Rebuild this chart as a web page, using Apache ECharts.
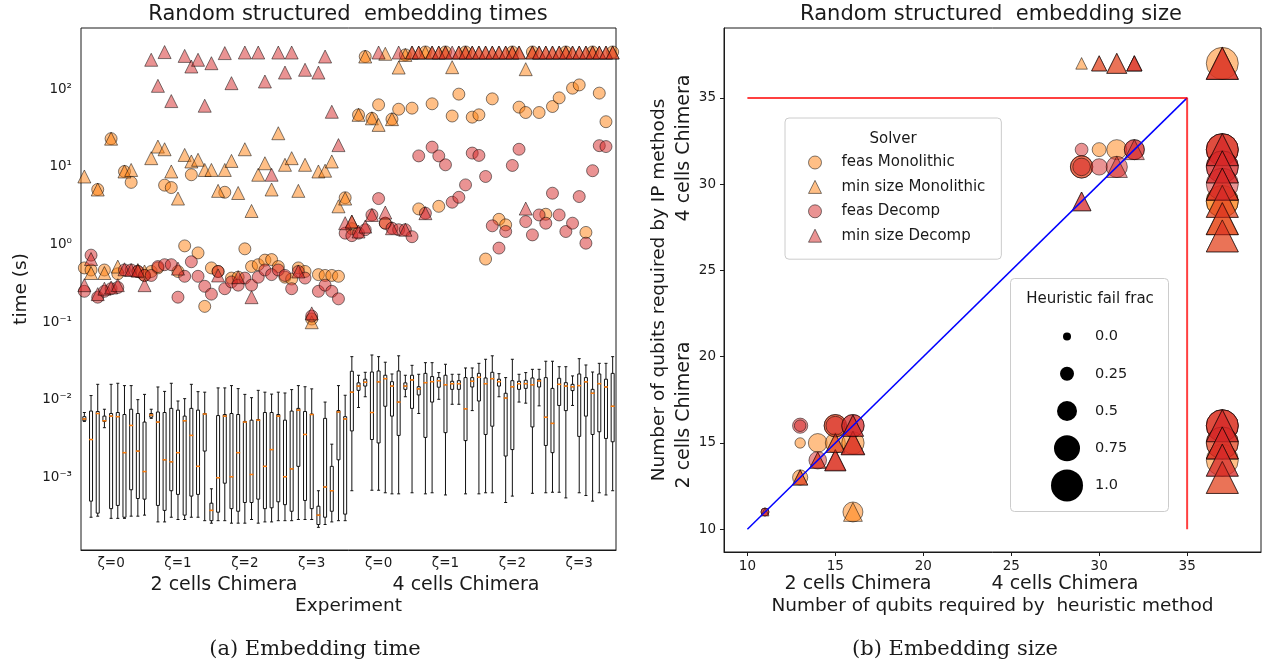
<!DOCTYPE html>
<html>
<head>
<meta charset="utf-8">
<script src="https://cdn.jsdelivr.net/npm/echarts@6/dist/echarts.min.js"></script>
<style>
  html, body { margin: 0; padding: 0; background: #fff; }
  #chart { width: 1263px; height: 666px; }
</style>
</head>
<body>
<div id="chart"></div>
<script>
// ---------- (a) embedding time: 80 experiments, 10 per zeta group ----------
const zetaLabels = ['ζ=0', 'ζ=1', 'ζ=2', 'ζ=3']
const timeTicks = [1e-3, 1e-2, 1e-1, 1, 10, 100]

// heuristic times per experiment: [min, q1, median, q3, max] (s)
const heurBox = [
  [0.0053, 0.0054, 0.0057, 0.0061, 0.0069], [0.00031, 0.0005, 0.0031, 0.0072, 0.0114],
  [0.00032, 0.00035, 0.0067, 0.0071, 0.0159], [0.0044, 0.0053, 0.0054, 0.0062, 0.0076],
  [0.0003, 0.0004, 0.0062, 0.0067, 0.0159], [0.0003, 0.00044, 0.0061, 0.0069, 0.0164],
  [0.0003, 0.00031, 0.0021, 0.0065, 0.0153], [0.00032, 0.0007, 0.0047, 0.0076, 0.0153],
  [0.00032, 0.00054, 0.0022, 0.0067, 0.0101], [0.00033, 0.00053, 0.0012, 0.0052, 0.0118],
  [0.0058, 0.006, 0.0064, 0.0067, 0.0076], [0.00027, 0.00044, 0.0052, 0.007, 0.0147],
  [0.00027, 0.00038, 0.0017, 0.0069, 0.0129], [0.00031, 0.00068, 0.0016, 0.0078, 0.0164],
  [0.00029, 0.00061, 0.0021, 0.0074, 0.0097], [0.00029, 0.00033, 0.0054, 0.0062, 0.0104],
  [0.00031, 0.00058, 0.0035, 0.0078, 0.0159], [0.00031, 0.00061, 0.0014, 0.0074, 0.0128],
  [0.00028, 0.0022, 0.0066, 0.0067, 0.0126], [0.00026, 0.00028, 0.00038, 0.00047, 0.00072],
  [0.00028, 0.00036, 0.001, 0.0063, 0.0143], [0.00028, 0.00085, 0.0062, 0.0065, 0.0143],
  [0.00026, 0.0004, 0.00103, 0.0067, 0.0153], [0.00026, 0.00037, 0.0021, 0.0065, 0.014],
  [0.00026, 0.00048, 0.0052, 0.0053, 0.0118], [0.00029, 0.00048, 0.0011, 0.0055, 0.0107],
  [0.00026, 0.00053, 0.0055, 0.0056, 0.0133], [0.00027, 0.0004, 0.0014, 0.0069, 0.0126],
  [0.00027, 0.00041, 0.0023, 0.0069, 0.0119], [0.00028, 0.00049, 0.0062, 0.0065, 0.0126],
  [0.00028, 0.00045, 0.00103, 0.0055, 0.0123], [0.00028, 0.00037, 0.0013, 0.0072, 0.0136],
  [0.00029, 0.0014, 0.0074, 0.0078, 0.0153], [0.00029, 0.00051, 0.0036, 0.0071, 0.0148],
  [0.00029, 0.0004, 0.0065, 0.0066, 0.0139], [0.00023, 0.00025, 0.00033, 0.00043, 0.00068],
  [0.00025, 0.00031, 0.00076, 0.0058, 0.0094], [0.00027, 0.00037, 0.00068, 0.0014, 0.0027],
  [0.00028, 0.0017, 0.007, 0.0073, 0.0153], [0.00028, 0.00034, 0.0057, 0.0061, 0.0115],
  [0.00068, 0.004, 0.0126, 0.0234, 0.0361], [0.008, 0.0133, 0.0151, 0.0166, 0.0208],
  [0.011, 0.0151, 0.0169, 0.0185, 0.0227], [0.00069, 0.0031, 0.0069, 0.0229, 0.0379],
  [0.00069, 0.0028, 0.0171, 0.0236, 0.0361], [0.00064, 0.0083, 0.0188, 0.0208, 0.0306],
  [0.00062, 0.0062, 0.0151, 0.0172, 0.0216], [0.00062, 0.0035, 0.0094, 0.0236, 0.037],
  [0.011, 0.0137, 0.0151, 0.0166, 0.0208], [0.00064, 0.0078, 0.0181, 0.0208, 0.0279],
  [0.0067, 0.0116, 0.0139, 0.0148, 0.0214], [0.00062, 0.0033, 0.0167, 0.022, 0.0302],
  [0.00064, 0.0094, 0.0172, 0.02, 0.0302], [0.0102, 0.0146, 0.0177, 0.0194, 0.0225],
  [0.0006, 0.0038, 0.0157, 0.0208, 0.0288], [0.0088, 0.0137, 0.0162, 0.0174, 0.0214],
  [0.0088, 0.0137, 0.0162, 0.0177, 0.0214], [0.00062, 0.003, 0.0077, 0.0194, 0.0258],
  [0.0073, 0.0147, 0.0174, 0.0194, 0.0258], [0.00062, 0.0097, 0.0196, 0.022, 0.0296],
  [0.00064, 0.0036, 0.0162, 0.0192, 0.0334], [0.00064, 0.0046, 0.0188, 0.0227, 0.037],
  [0.011, 0.0151, 0.0172, 0.0185, 0.0218], [0.00048, 0.0019, 0.0106, 0.0122, 0.0194],
  [0.00058, 0.0023, 0.0148, 0.0177, 0.0334], [0.0094, 0.0137, 0.0162, 0.0174, 0.0214],
  [0.0091, 0.0141, 0.0162, 0.0179, 0.0225], [0.00063, 0.0045, 0.0157, 0.0192, 0.0248],
  [0.0084, 0.0147, 0.0176, 0.0185, 0.0248], [0.00064, 0.0026, 0.006, 0.0194, 0.0315],
  [0.00065, 0.0021, 0.005, 0.0141, 0.0315], [0.00065, 0.0085, 0.0159, 0.019, 0.0268],
  [0.00055, 0.0073, 0.0151, 0.0167, 0.0268], [0.0085, 0.0132, 0.0148, 0.0159, 0.0204],
  [0.00064, 0.0034, 0.0153, 0.0216, 0.034], [0.00059, 0.0062, 0.0171, 0.0194, 0.0282],
  [0.0005, 0.0036, 0.0122, 0.0137, 0.0229], [0.00064, 0.0039, 0.0162, 0.0216, 0.0296],
  [0.0006, 0.0032, 0.0147, 0.0185, 0.0296], [0.00068, 0.0029, 0.0083, 0.022, 0.0361]
]

// IP solver times per experiment (s)
const feasMonoTime = [
  0.5, 0.47, 5.1, 0.47, 23, 0.42, 8.7, 6.3, 0.45, 0.4,
  0.45, 0.5, 5.8, 5.4, 0.45, 0.96, 7.9, 0.78, 0.16, 0.5,
  0.45, 4.7, 0.37, 0.38, 0.88, 0.52, 0.55, 0.63, 0.64, 0.52,
  0.38, 0.36, 0.5, 0.45, 0.11, 0.41, 0.4, 0.4, 0.39, 4.0,
  1.6, 46.6, 262, 42, 62.7, 1.88, 41, 55, 275, 56.8,
  2.87, 300, 64.6, 3.1, 300, 45, 86, 300, 43.5, 46.6,
  0.65, 74.8, 2.11, 1.79, 300, 58.5, 49.9, 300, 49.9, 2.45,
  59.6, 77, 300, 102.6, 113, 1.43, 300, 88.6, 38, 300
]
const minMonoTime = [
  7.5, 0.43, 5.1, 0.43, 23, 0.52, 8.7, 9.1, 0.47, 0.45,
  12.9, 18.2, 16.8, 8.7, 3.9, 14.2, 11.7, 12.3, 9.1, 9.1,
  4.9, 9.1, 11.9, 4.6, 16.8, 2.7, 7.9, 11.1, 5.1, 27,
  10.6, 12.9, 4.9, 10.6, 0.1, 8.7, 8.9, 11.7, 3.1, 3.9,
  1.97, 46.6, 262, 42, 34.6, 284, 41, 189, 275, 295,
  295, 295, 295, 295, 295, 191, 295, 295, 295, 295,
  295, 295, 295, 295, 295, 295, 180, 295, 295, 295,
  295, 295, 295, 295, 295, 295, 295, 295, 295, 295
]
const feasDecompTime = [
  0.25, 0.73, 0.21, 0.25, 0.27, 0.28, 0.47, 0.47, 0.45, 0.4,
  0.4, 0.52, 0.55, 0.55, 0.21, 0.39, 0.6, 0.39, 0.29, 0.23,
  0.45, 0.27, 0.33, 0.3, 0.37, 0.3, 0.38, 0.47, 0.41, 0.47,
  0.4, 0.27, 0.45, 0.37, 0.12, 0.25, 0.3, 0.25, 0.2, 1.4,
  1.3, 1.4, 1.55, 2.4, 3.9, 1.88, 1.62, 1.55, 1.55, 1.26,
  13.8, 2.53, 17.9, 13.8, 10.6, 3.5, 4.05, 5.85, 15.0, 14.0,
  7.5, 1.74, 0.9, 1.47, 10.4, 16.8, 1.97, 1.33, 2.4, 1.88,
  4.57, 2.4, 1.47, 1.88, 4.14, 1.04, 8.9, 18.7, 18.2, null
]
const minDecompTime = [
  0.3, 0.65, 0.23, 0.27, 0.28, 0.3, 0.48, 0.47, 0.46, 0.3,
  238, 110, 299, 70, 0.49, 267, 195, 238, 61, 215,
  0.4, 290, 119, 0.38, 295, 0.21, 295, 125, 7.9, 295,
  163, 295, 0.45, 177, 0.13, 163, 262, 51, 19, 1.88,
  1.97, 1.47, 1.7, 2.4, 295, 2.58, 1.62, 295, 1.55, 295,
  295, 2.53, 295, 295, 295, 295, 295, 295, 295, 295,
  295, 295, 295, 295, 295, 295, 2.9, 295, 295, 295,
  295, 295, 295, 295, 295, 295, 295, 295, 295, 295
]

// ---------- (b) embedding size: one row per experiment ----------
// [heuristic qubits, IP qubits, heuristic fail frac]; 37 = not found
const sizeTicks = [10, 15, 20, 25, 30, 35]
const diagX = [10, 35]
const boundX = [10, 35, 35]
const boundY = [35, 35, 10]
const failLevels = [0.0, 0.25, 0.5, 0.75, 1.0]

const feasMonoSize = [
  [13, 15, 0.1], [14, 15, 0.45], [13, 13, 0.3], [15, 15, 0.5], [16, 15, 0.6], [16, 11, 0.5], [15, 16, 0.6],
  [30, 32, 0.25], [31, 32, 0.5], [29, 31, 0.6],
  [37, 37, 1], [37, 29, 1], [37, 29, 1], [37, 16, 1], [37, 15, 1], [37, 14, 1], [37, 32, 1]
]
const minMonoSize = [
  [13, 13, 0.3], [16, 11, 0.45], [15, 15, 0.45], [16, 15, 0.6], [14, 14, 0.3], [15, 14, 0.5],
  [29, 37, 0.15], [30, 37, 0.3], [31, 37, 0.5], [32, 37, 0.3],
  [37, 37, 1], [37, 28, 1], [37, 27, 1], [37, 13, 1], [37, 15, 1], [37, 29, 1], [37, 28, 1], [37, 30, 1]
]
const feasDecompSize = [
  [11, 11, 0], [11, 11, 0], [13, 16, 0.3], [13, 16, 0.15], [14, 14, 0.4], [15, 16, 0.6], [15, 16, 0.45],
  [16, 16, 0.6], [16, 16, 0.6],
  [29, 32, 0.2], [29, 31, 0.6], [29, 31, 0.4], [30, 31, 0.35], [31, 31, 0.55], [32, 32, 0.5], [32, 32, 0.5],
  [37, 32, 1], [37, 32, 1], [37, 31, 1], [37, 31, 1], [37, 30, 1], [37, 16, 1], [37, 16, 1], [37, 15, 1]
]
const minDecompSize = [
  [11, 11, 0], [13, 13, 0.3], [14, 14, 0.35], [15, 14, 0.55], [15, 14, 0.55], [15, 15, 0.45],
  [16, 15, 0.65], [16, 15, 0.65], [16, 16, 0.55], [16, 16, 0.55],
  [29, 29, 0.45], [29, 29, 0.45], [30, 37, 0.3], [31, 37, 0.5], [32, 37, 0.3], [32, 37, 0.3],
  [31, 31, 0.55], [32, 32, 0.5],
  [37, 37, 1], [37, 37, 1], [37, 32, 1], [37, 32, 1], [37, 31, 1], [37, 31, 1], [37, 30, 1], [37, 30, 1],
  [37, 29, 1], [37, 28, 1], [37, 27, 1],
  [37, 16, 1], [37, 16, 1], [37, 15, 1], [37, 15, 1], [37, 14, 1], [37, 14, 1], [37, 13, 1]
]

// ---------- styling helpers ----------
const FONT = 'DejaVu Sans'
const INK = '#1a1a1a'
const monoFill = 'rgba(255,127,14,0.5)'
const decompFill = 'rgba(214,39,40,0.5)'
const edge = 'rgba(0,0,0,0.5)'
const sup = { '-': '⁻', '0': '⁰', '1': '¹', '2': '²', '3': '³', '4': '⁴' }
const powLabel = (v) => '10' + String(Math.round(Math.log10(v))).split('').map((c) => sup[c]).join('')
const markerSize = (frac) => 8 + 24 * frac

const expIds = heurBox.map((_, i) => String(i + 1))
const minorTicks = []
for (let k = -4; k <= 2; k++) {
  for (let m = 2; m <= 9; m++) minorTicks.push(m * Math.pow(10, k))
}
const toPoints = (arr) => arr.map((v, i) => (v == null ? null : [i, v])).filter(Boolean)

const solvers = [
  { name: 'feas Monolithic', symbol: 'circle', fill: monoFill, time: feasMonoTime, size: feasMonoSize },
  { name: 'min size Monolithic', symbol: 'triangle', fill: monoFill, time: minMonoTime, size: minMonoSize },
  { name: 'feas Decomp', symbol: 'circle', fill: decompFill, time: feasDecompTime, size: feasDecompSize },
  { name: 'min size Decomp', symbol: 'triangle', fill: decompFill, time: minDecompTime, size: minDecompSize }
]

const timeSeries = solvers.map((s) => ({
  name: s.name,
  type: 'scatter',
  xAxisIndex: 0,
  yAxisIndex: 0,
  symbol: s.symbol,
  symbolSize: s.symbol === 'circle' ? 12 : 13,
  itemStyle: { color: s.fill, borderColor: edge, borderWidth: 1, opacity: 1 },
  data: toPoints(s.time)
}))

const sizeSeries = solvers.map((s) => ({
  name: s.name,
  type: 'scatter',
  xAxisIndex: 1,
  yAxisIndex: 2,
  symbol: s.symbol,
  symbolSize: (v) => markerSize(v[2]),
  itemStyle: { color: s.fill, borderColor: edge, borderWidth: 1, opacity: 1 },
  data: s.size
}))

const tickLabel = { color: INK, fontFamily: FONT, fontSize: 13.5 }
const axisLine = { lineStyle: { color: INK, width: 1 } }

const text = (str, x, y, opts = {}) => ({
  type: 'text',
  x,
  y,
  rotation: opts.rotation || 0,
  z: 20,
  style: {
    text: str,
    fontFamily: opts.family || FONT,
    fontSize: opts.size || 19,
    fill: INK,
    align: 'center',
    verticalAlign: 'middle'
  }
})

const chart = echarts.init(document.getElementById('chart'))

chart.setOption({
  animation: false,
  backgroundColor: '#fff',
  grid: [
    { left: 81, top: 28, width: 535, height: 522, show: true, borderColor: INK, borderWidth: 1 },
    { left: 724, top: 28, width: 537, height: 524, show: true, borderColor: INK, borderWidth: 1 },
    { left: 1060, top: 318, width: 14, height: 186 }
  ],
  xAxis: [
    {
      type: 'category',
      gridIndex: 0,
      data: expIds,
      boundaryGap: true,
      axisLine,
      axisTick: { alignWithLabel: true, interval: (i) => i % 5 === 4, length: 4, lineStyle: { color: INK } },
      axisLabel: {
        ...tickLabel,
        margin: 6,
        interval: (i) => i % 10 === 4,
        formatter: (v, i) => zetaLabels[Math.floor(i / 10) % 4]
      },
      name: 'Experiment',
      nameLocation: 'middle',
      nameGap: 47,
      nameTextStyle: { color: INK, fontFamily: FONT, fontSize: 18.5 }
    },
    {
      type: 'value',
      gridIndex: 1,
      min: 8.67,
      max: 39.2,
      axisLine,
      splitLine: { show: false },
      axisTick: { customValues: sizeTicks, length: 4, lineStyle: { color: INK } },
      axisLabel: { ...tickLabel, margin: 7, customValues: sizeTicks },
      name: 'Number of qubits required by  heuristic method',
      nameLocation: 'middle',
      nameGap: 45,
      nameTextStyle: { color: INK, fontFamily: FONT, fontSize: 18.5 }
    },
    { type: 'value', gridIndex: 2, min: 0, max: 1, show: false }
  ],
  yAxis: [
    {
      type: 'log',
      logBase: 10,
      gridIndex: 0,
      min: 1.175e-4,
      max: 610,
      axisLine,
      splitLine: { show: false },
      axisTick: { customValues: timeTicks, length: 5, lineStyle: { color: INK } },
      axisLabel: { ...tickLabel, margin: 9, customValues: timeTicks, formatter: powLabel },
      name: 'time (s)',
      nameLocation: 'middle',
      nameRotate: 90,
      nameGap: 50,
      nameTextStyle: { color: INK, fontFamily: FONT, fontSize: 18.5 }
    },
    {
      type: 'log',
      logBase: 10,
      gridIndex: 0,
      min: 1.175e-4,
      max: 610,
      axisLine: { show: false },
      splitLine: { show: false },
      axisTick: { customValues: minorTicks, length: 2.5, lineStyle: { color: INK } },
      axisLabel: { show: false }
    },
    {
      type: 'value',
      gridIndex: 1,
      min: 8.68,
      max: 39.05,
      axisLine,
      splitLine: { show: false },
      axisTick: { customValues: sizeTicks, length: 4, lineStyle: { color: INK } },
      axisLabel: { ...tickLabel, margin: 8, customValues: sizeTicks },
      name: 'Number of qubits required by IP methods',
      nameLocation: 'middle',
      nameRotate: 90,
      nameGap: 55,
      nameTextStyle: { color: INK, fontFamily: FONT, fontSize: 18.5 }
    },
    {
      type: 'category',
      gridIndex: 2,
      inverse: true,
      position: 'right',
      z: 10,
      data: failLevels.map((f) => String(f % 1 === 0 ? f.toFixed(1) : f)),
      axisLine: { show: false },
      axisTick: { show: false },
      axisLabel: { color: INK, fontFamily: FONT, fontSize: 14.5, margin: 21 }
    }
  ],
  legend: {
    data: solvers.map((s) => ({
      name: s.name,
      icon: s.symbol,
      itemStyle: { color: s.fill, borderColor: edge, borderWidth: 1, opacity: 1 }
    })),
    orient: 'vertical',
    left: 785,
    top: 118,
    itemWidth: 13,
    itemHeight: 13,
    itemGap: 9.4,
    padding: [37, 16, 16, 23],
    borderColor: '#cccccc',
    borderWidth: 1,
    borderRadius: 4,
    backgroundColor: 'rgba(255,255,255,0.85)',
    textStyle: { color: INK, fontFamily: FONT, fontSize: 15, padding: [0, 0, 0, 15] },
    selectedMode: false
  },
  graphic: [
    text('Random structured  embedding times', 348, 15, { size: 21 }),
    text('Random structured  embedding size', 991, 15, { size: 21 }),
    text('2 cells Chimera', 224, 585),
    text('4 cells Chimera', 466, 585),
    text('2 cells Chimera', 858, 584),
    text('4 cells Chimera', 1065, 584),
    text('4 cells Chimera', 684, 148, { rotation: Math.PI / 2 }),
    text('2 cells Chimera', 684, 415, { rotation: Math.PI / 2 }),
    text('Solver', 893, 139, { size: 15 }),
    text('(a) Embedding time', 315, 650, { size: 21, family: 'DejaVu Serif' }),
    text('(b) Embedding size', 955, 650, { size: 21, family: 'DejaVu Serif' }),
    {
      type: 'rect',
      z: 1,
      shape: { x: 1010.5, y: 278.5, width: 158, height: 233, r: 4 },
      style: { fill: '#ffffff', stroke: '#cccccc', lineWidth: 1 }
    },
    text('Heuristic fail frac', 1090, 299, { size: 15 })
  ],
  series: [
    {
      type: 'boxplot',
      xAxisIndex: 0,
      yAxisIndex: 0,
      data: heurBox,
      boxWidth: [3, 3],
      silent: true,
      itemStyle: { color: 'rgba(0,0,0,0)', borderColor: '#111', borderWidth: 1 }
    },
    {
      type: 'scatter',
      xAxisIndex: 0,
      yAxisIndex: 0,
      symbol: 'rect',
      symbolSize: [4, 1.5],
      silent: true,
      itemStyle: { color: '#ff7f0e', opacity: 1 },
      data: heurBox.map((b, i) => [i, b[2]])
    },
    ...timeSeries,
    ...sizeSeries,
    {
      type: 'line',
      xAxisIndex: 1,
      yAxisIndex: 2,
      z: 5,
      symbol: 'none',
      lineStyle: { color: '#0000ff', width: 1.5 },
      data: diagX.map((v) => [v, v])
    },
    {
      type: 'line',
      xAxisIndex: 1,
      yAxisIndex: 2,
      z: 5,
      symbol: 'none',
      lineStyle: { color: 'rgba(255,0,0,0.75)', width: 2 },
      data: boundX.map((v, i) => [v, boundY[i]])
    },
    {
      type: 'scatter',
      xAxisIndex: 2,
      yAxisIndex: 3,
      z: 3,
      symbol: 'circle',
      symbolSize: (v) => markerSize(v[2]),
      itemStyle: { color: '#000', opacity: 1 },
      data: failLevels.map((f, i) => [0.5, i, f])
    }
  ]
})
</script>
</body>
</html>
